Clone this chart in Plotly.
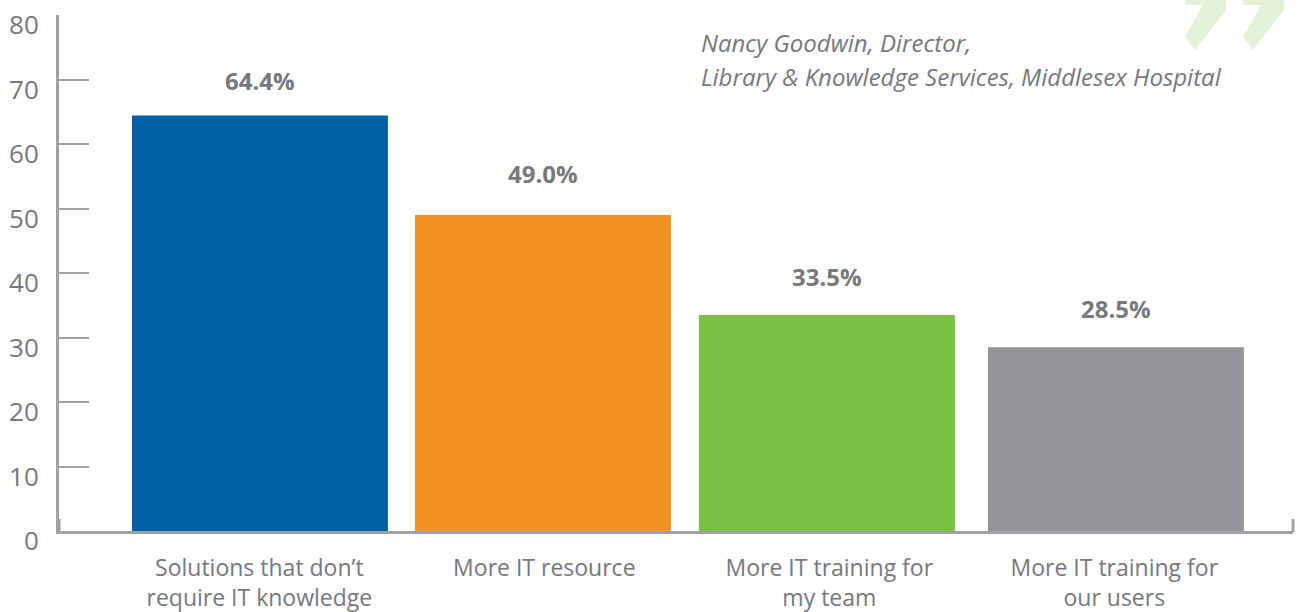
import plotly.graph_objects as go

categories = ["Solutions that don’t<br>require IT knowledge", "More IT resource",
              "More IT training for<br>my team", "More IT training for<br>our users"]
values = [64.4, 49.0, 33.5, 28.5]
value_labels = ["64.4%", "49.0%", "33.5%", "28.5%"]
bar_colors = ["#0062a4", "#f4911e", "#7ac143", "#949598"]
y_ticks = [0, 10, 20, 30, 40, 50, 60, 70, 80]
quote_lines = ["Nancy Goodwin, Director,", "Library & Knowledge Services, Middlesex Hospital"]

W, H = 1300, 612
LEFT, RIGHT, TOP, BOTTOM = 59, 1293, 15, 531
GREY = "#77787b"
AXIS = "#a0a1a4"
FONT = "Open Sans"
X_RANGE = [-0.703, 3.627]
BAR_WIDTH = 0.898
STEP = (RIGHT - LEFT) / (X_RANGE[1] - X_RANGE[0])  # pixels per category


def px(x):
    return (x - LEFT) / (RIGHT - LEFT)


def py(y):
    return (BOTTOM - y) / (BOTTOM - TOP)


# the original bars are not quite evenly spaced, nudge them by a pixel or two
nudges = [0.6, -1.4, -2.4, 1.6]
label_gaps = [35, 41, 38, 39]

fig = go.Figure()
fig.add_trace(go.Bar(x=categories, y=values, marker=dict(color=bar_colors, line_width=0),
                     width=BAR_WIDTH, offset=[-BAR_WIDTH / 2 + n / STEP for n in nudges],
                     showlegend=False))

for cat, val, lab, gap, n in zip(categories, values, value_labels, label_gaps, nudges):
    fig.add_annotation(x=cat, y=val, text=f"<b>{lab}</b>", showarrow=False, yshift=gap, xshift=n,
                       font=dict(family=FONT, size=24, color=GREY))

for line, y_pos in zip(quote_lines, [43, 76]):
    fig.add_annotation(xref="paper", yref="paper", x=px(699), y=py(y_pos), text=f"<i>{line}</i>",
                       showarrow=False, xanchor="left", yanchor="middle",
                       font=dict(family=FONT, size=24, color=GREY))

# closing quote mark, top right
for dx in [0, 58]:
    pts = [(1185, 0), (1185, 5), (1203, 5), (1185, 37), (1195, 50), (1226, 10), (1226, 0)]
    path = "M " + " L ".join(f"{px(x + dx):.5f},{py(y):.5f}" for x, y in pts) + " Z"
    fig.add_shape(type="path", xref="paper", yref="paper", path=path,
                  fillcolor="#e4f1d8", line_width=0, layer="below")

# small end caps on the axis corners
for x_cap in [LEFT, RIGHT]:
    fig.add_shape(type="line", xref="paper", yref="paper", x0=px(x_cap), x1=px(x_cap),
                  y0=py(532), y1=py(519), line=dict(color=AXIS, width=3))

fig.update_layout(
    width=W, height=H,
    margin=dict(l=LEFT, r=W - RIGHT, t=TOP, b=H - BOTTOM, pad=0, autoexpand=False),
    plot_bgcolor="white", paper_bgcolor="white",
    font=dict(family=FONT, color=GREY),
    xaxis=dict(type="category", range=X_RANGE, showline=True, linecolor=AXIS, linewidth=3,
               showgrid=False, ticks="", tickfont=dict(size=23, color=GREY), ticklabelstandoff=14),
    yaxis=dict(range=[0, 80], tickvals=y_ticks, showline=True, linecolor=AXIS, linewidth=3,
               showgrid=False, zeroline=False, ticks="inside", ticklen=30, tickwidth=2, tickcolor=AXIS,
               tickfont=dict(size=26, color=GREY), ticklabelstandoff=12, ticklabelshift=10),
    bargap=0.1,
)

fig.write_html("out.html", config=dict(displayModeBar=False),
               post_script="document.body.style.margin='0'")
